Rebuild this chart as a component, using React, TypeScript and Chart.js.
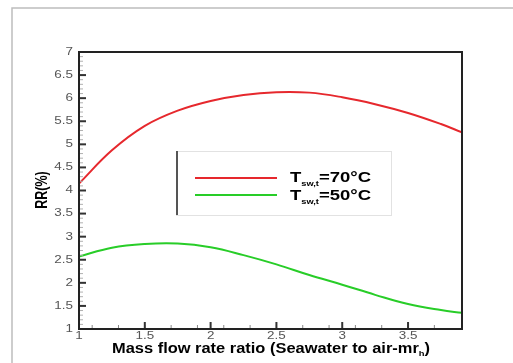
import React, { useEffect, useRef } from "react";
import { Chart, registerables } from "chart.js";

Chart.register(...registerables);

const xValues = [1, 1.25, 1.5, 1.75, 2, 2.25, 2.5, 2.75, 3, 3.25, 3.5, 3.75, 3.91];
const rr70 = [4.15, 4.87, 5.4, 5.73, 5.94, 6.07, 6.13, 6.12, 6.02, 5.87, 5.68, 5.44, 5.26];
const rr50 = [2.57, 2.76, 2.84, 2.85, 2.77, 2.6, 2.4, 2.17, 1.96, 1.74, 1.54, 1.41, 1.35];
const xTickLabels = ["1", "1.5", "2", "2.5", "3", "3.5"];
const yTickLabels = ["1", "1.5", "2", "2.5", "3", "3.5", "4", "4.5", "5", "5.5", "6", "6.5", "7"];
const legendLabels = [
  { main: "T", sub: "sw,t", rest: "=70°C" },
  { main: "T", sub: "sw,t", rest: "=50°C" },
];
const xTitleMain = "Mass flow rate ratio (Seawater to air-mr";
const xTitleSub = "h";
const xTitleEnd = ")";
const yTitle = "RR(%)";

const RED = "rgb(230,40,45)";
const GREEN = "rgb(40,205,40)";
const FONT = "'Liberation Sans', Arial, sans-serif";
const STRETCH = 1.28;

type Piece = { text: string; font: string; dy: number };

function drawPieces(ctx: any, pieces: Piece[], x: number, y: number, targetW: number) {
  let w = 0;
  pieces.forEach((p) => {
    ctx.font = p.font;
    w += ctx.measureText(p.text).width;
  });
  const s = targetW / w;
  ctx.save();
  ctx.translate(x, y);
  ctx.scale(s, 1);
  ctx.textAlign = "left";
  ctx.textBaseline = "alphabetic";
  let cx = 0;
  pieces.forEach((p) => {
    ctx.font = p.font;
    ctx.fillText(p.text, cx, p.dy);
    cx += ctx.measureText(p.text).width;
  });
  ctx.restore();
}

function fillStretched(ctx: any, text: string, x: number, y: number, align: string) {
  ctx.save();
  ctx.translate(x, y);
  ctx.scale(STRETCH, 1);
  ctx.textAlign = align;
  ctx.fillText(text, 0, 0);
  ctx.restore();
}

const decor = {
  id: "decor",
  beforeDraw(chart: any) {
    const ctx = chart.ctx;
    ctx.save();
    ctx.fillStyle = "#fff";
    ctx.fillRect(0, 0, chart.width, chart.height);
    ctx.strokeStyle = "#bdbdbd";
    ctx.lineWidth = 1.5;
    ctx.beginPath();
    ctx.moveTo(12, chart.height);
    ctx.lineTo(12, 8);
    ctx.lineTo(chart.width, 8);
    ctx.stroke();
    ctx.restore();
  },
  afterDatasetsDraw(chart: any) {
    const ctx = chart.ctx;
    const a = chart.chartArea;
    const xs = chart.scales.x;
    const ys = chart.scales.y;
    ctx.save();
    for (let i = 10; i <= 70; i++) {
      if (i % 5 === 0) continue;
      const py = ys.getPixelForValue(i / 10);
      ctx.strokeStyle = "#b0b0b0";
      ctx.lineWidth = 1;
      ctx.beginPath();
      ctx.moveTo(a.left, py);
      ctx.lineTo(a.left + 4, py);
      ctx.stroke();
    }
    ctx.font = `10.5px ${FONT}`;
    ctx.fillStyle = "#555";
    ctx.textBaseline = "middle";
    yTickLabels.forEach((t) => {
      const py = ys.getPixelForValue(parseFloat(t));
      ctx.strokeStyle = "#333";
      ctx.lineWidth = 2;
      ctx.beginPath();
      ctx.moveTo(a.left, py);
      ctx.lineTo(a.left + 7, py);
      ctx.stroke();
      fillStretched(ctx, t, a.left - 6, py, "right");
    });
    for (let i = 11; i < 39; i += 2) {
      const px = xs.getPixelForValue(i / 10);
      ctx.strokeStyle = "#888";
      ctx.lineWidth = 1;
      ctx.beginPath();
      ctx.moveTo(px, a.bottom);
      ctx.lineTo(px, a.bottom - 4);
      ctx.stroke();
    }
    ctx.textBaseline = "top";
    xTickLabels.forEach((t) => {
      const px = xs.getPixelForValue(parseFloat(t));
      ctx.strokeStyle = "#333";
      ctx.lineWidth = 2;
      ctx.beginPath();
      ctx.moveTo(px, a.bottom);
      ctx.lineTo(px, a.bottom - 7);
      ctx.stroke();
      ctx.fillStyle = "#555";
      fillStretched(ctx, t, px, a.bottom + 2, "center");
    });
    ctx.strokeStyle = "#222";
    ctx.lineWidth = 2;
    ctx.strokeRect(a.left, a.top, a.right - a.left, a.bottom - a.top);

    ctx.fillStyle = "#000";
    drawPieces(
      ctx,
      [
        { text: xTitleMain, font: `bold 14px ${FONT}`, dy: 0 },
        { text: xTitleSub, font: `bold 8px ${FONT}`, dy: 3 },
        { text: xTitleEnd, font: `bold 14px ${FONT}`, dy: 0 },
      ],
      112,
      353,
      318
    );

    ctx.save();
    ctx.translate(43, 190);
    ctx.rotate(-Math.PI / 2);
    ctx.scale(1, STRETCH);
    ctx.textAlign = "center";
    ctx.textBaseline = "middle";
    ctx.font = `bold 12.5px ${FONT}`;
    ctx.fillText(yTitle, 0, 0);
    ctx.restore();

    const lx = 176, ly = 151, lw = 215, lh = 64;
    ctx.fillStyle = "#fff";
    ctx.fillRect(lx, ly, lw, lh);
    ctx.strokeStyle = "#e2e2e2";
    ctx.lineWidth = 1;
    ctx.strokeRect(lx + 0.5, ly + 0.5, lw, lh);
    ctx.strokeStyle = "#555";
    ctx.lineWidth = 2;
    ctx.beginPath();
    ctx.moveTo(lx + 1, ly);
    ctx.lineTo(lx + 1, ly + lh);
    ctx.stroke();
    const colors = [RED, GREEN];
    const rows = [178, 195];
    const baselines = [182, 200];
    legendLabels.forEach((l, i) => {
      const y = rows[i];
      ctx.strokeStyle = colors[i];
      ctx.lineWidth = 2;
      ctx.beginPath();
      ctx.moveTo(195, y);
      ctx.lineTo(277, y);
      ctx.stroke();
      ctx.fillStyle = "#000";
      drawPieces(
        ctx,
        [
          { text: l.main, font: `bold 14px ${FONT}`, dy: 0 },
          { text: l.sub, font: `bold 7px ${FONT}`, dy: 4 },
          { text: l.rest, font: `bold 14px ${FONT}`, dy: 0 },
        ],
        290,
        baselines[i],
        81
      );
    });
    ctx.restore();
  },
};

export default function App() {
  const ref = useRef<HTMLCanvasElement | null>(null);
  useEffect(() => {
    if (!ref.current) return;
    const chart = new Chart(ref.current, {
      type: "line",
      data: {
        datasets: [
          {
            label: "70",
            data: xValues.map((x, i) => ({ x, y: rr70[i] })),
            borderColor: RED,
            borderWidth: 2,
            pointRadius: 0,
            tension: 0.4,
          },
          {
            label: "50",
            data: xValues.map((x, i) => ({ x, y: rr50[i] })),
            borderColor: GREEN,
            borderWidth: 2,
            pointRadius: 0,
            tension: 0.4,
          },
        ],
      },
      options: {
        animation: false,
        responsive: false,
        layout: { padding: { left: 79, right: 51, top: 52, bottom: 34 } },
        plugins: { legend: { display: false }, tooltip: { enabled: false } },
        scales: {
          x: { type: "linear", min: 1, max: 3.91, display: false },
          y: { type: "linear", min: 1, max: 7, display: false },
        },
      },
      plugins: [decor],
    } as any);
    return () => chart.destroy();
  }, []);
  return (
    <div style={{ position: "fixed", left: 0, top: 0, width: 513, height: 363 }}>
      <canvas ref={ref} width={513} height={363} style={{ width: 513, height: 363 }} />
    </div>
  );
}
